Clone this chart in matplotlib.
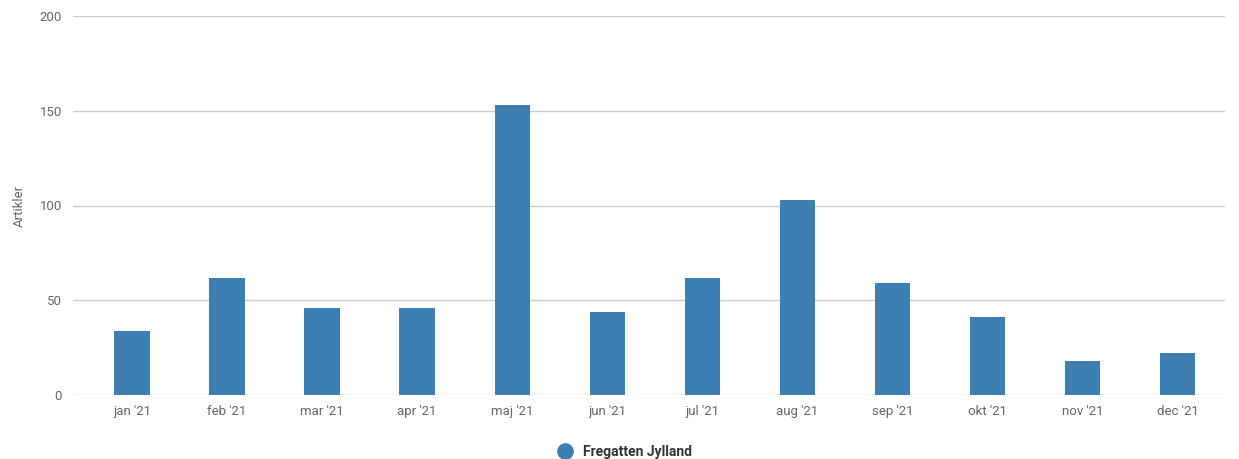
import matplotlib
matplotlib.use("Agg")
import matplotlib.pyplot as plt
from matplotlib.lines import Line2D

categories = ["jan '21", "feb '21", "mar '21", "apr '21", "maj '21", "jun '21",
              "jul '21", "aug '21", "sep '21", "okt '21", "nov '21", "dec '21"]
values = [34, 62, 46, 46, 153, 44, 62, 103, 59, 41, 18, 22]
series_name = "Fregatten Jylland"
yticks = [0, 50, 100, 150, 200]

plt.rcParams['font.family'] = ['Roboto', 'DejaVu Sans']

W, H = 1239, 459
fig = plt.figure(figsize=(W / 100, H / 100), dpi=100)
left, right, top, bottom = 73, 1225, 16, 395
ax = fig.add_axes([left / W, 1 - bottom / H, (right - left) / W, (bottom - top) / H])

color = "#3e7fb3"
x = list(range(len(categories)))
ax.bar(x, values, width=0.37, color=color, zorder=3)

ax.set_ylim(0, 200)
ax.set_xlim(-0.62, 11.5)
ax.set_yticks(yticks)
ax.set_xticks(x)
ax.set_xticklabels(categories)
ax.grid(axis='y', color="#cccccc", linewidth=1, zorder=0)
for s in ax.spines.values():
    s.set_visible(False)
ax.tick_params(axis='both', length=0, colors="#666666", labelsize=9.5)
ax.tick_params(axis='y', pad=8)
ax.tick_params(axis='x', pad=7)
ax.set_ylabel("Artikler", color="#666666", fontsize=9.5, labelpad=10)

handle = Line2D([], [], marker='o', linestyle='none', markersize=11,
                markerfacecolor=color, markeredgecolor=color)
fig.legend([handle], [series_name], loc='center', bbox_to_anchor=(0.5 + 2 / W, 1 - 452 / H),
           frameon=False, handletextpad=0.3, prop={'weight': 'bold', 'size': 10},
           labelcolor="#333333")

fig.savefig("out.png", dpi=100)
